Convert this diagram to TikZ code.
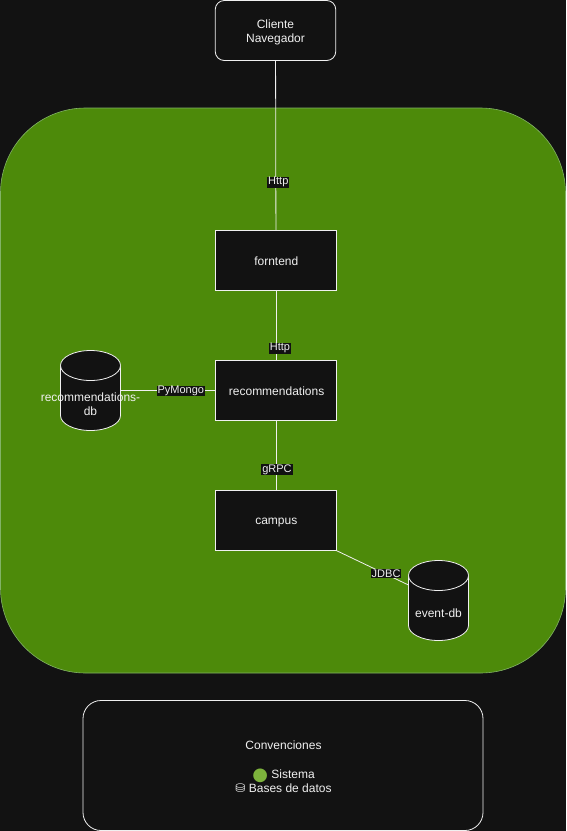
\documentclass[tikz,border=0pt]{standalone}
\usepackage{fontspec}
\setmainfont{Liberation Sans}
\newfontfamily\symfont{DejaVu Sans}
\usetikzlibrary{calc}
\definecolor{pagebg}{HTML}{121212}
\definecolor{groupgreen}{HTML}{4D8A0A}
\definecolor{groupedge}{HTML}{82B366}
\definecolor{dotgreen}{HTML}{7DB33C}
\definecolor{ink}{HTML}{F0F0F0}
\tikzset{
  x=1pt,y=-1pt,
  every node/.style={text=ink,font=\fontsize{12}{14.4}\selectfont,inner sep=0pt,outer sep=0pt},
  boxnode/.style={draw=ink,fill=pagebg,line width=0.8pt,minimum width=120.5pt,minimum height=60pt,align=center},
  roundbox/.style={boxnode,rounded corners=9pt},
  dbnode/.style={minimum width=60pt,minimum height=80pt,align=center},
  boxtext/.style={align=center},
  edgelabel/.style={fill=pagebg,text=ink,font=\fontsize{11}{13}\selectfont,inner xsep=1pt,inner ysep=0.5pt},
  link/.style={draw=ink,line width=0.8pt},
  cyl/.style={draw=ink,fill=pagebg,line width=0.8pt}
}
\newcommand{\drumshape}[1]{%
  \path[cyl] (#1.north west) ++(0,15)
    arc[start angle=180,end angle=0,x radius=30,y radius=-15]
    -- ++(0,50)
    arc[start angle=0,end angle=-180,x radius=30,y radius=-15] -- cycle;
  \path[cyl] (#1.north west) ++(0,15)
    arc[start angle=180,end angle=360,x radius=30,y radius=-15];
}
\begin{document}
\begin{tikzpicture}
\useasboundingbox[fill=pagebg] (0,0) rectangle (566,831);
\path[fill=groupgreen,draw=groupedge,line width=0.6pt,rounded corners=85pt] (0.5,108) rectangle (565.5,673);
\node[roundbox] (cliente) at (275.5,30.5) {};
\node[boxnode] (fe) at (276,260.5) {};
\node[boxnode] (rec) at (276,390.5) {};
\node[boxnode] (campus) at (276,520.5) {};
\node[dbnode] (rdb) at (90.5,390.5) {};
\node[dbnode] (edb) at (438.5,600.5) {};
\coordinate (edbside) at (408.5,585);
\draw[link] (cliente) -- node[edgelabel,pos=0.71,xshift=2.5pt,yshift=-1pt] (l1) {Http} (fe);
\draw[link] (fe) -- node[edgelabel,pos=0.81,xshift=4pt,yshift=-1pt] (l2) {Http} (rec);
\draw[link] (rdb.east) -- node[edgelabel,pos=0.633,yshift=-0.5pt] (l3) {PyMongo} (rec.west);
\draw[link] (rec) -- node[edgelabel,pos=0.7,xshift=1pt] (l4) {gRPC} (campus);
\draw[link] (campus.south east) -- node[edgelabel,pos=0.69,yshift=1pt] (l5) {JDBC} (edbside);
\drumshape{rdb}
\drumshape{edb}
\node[boxtext] (cliT) at (275.5,32.5) {Cliente\\Navegador};
\node[boxtext] (feT) at (276.3,261.5) {forntend};
\node[boxtext] (recT) at (276.6,391.5) {recommendations};
\node[boxtext] (camT) at (276.3,523) {campus};
\node[boxtext] (rdbt) at (90.5,404) {recommendations-\\db};
\node[boxtext] (edbt) at (438.5,613.5) {event-db};
\node[roundbox,minimum width=400pt,minimum height=130pt,rounded corners=18pt] (conv) at (283,765.5) {};
\node[align=center] (convt) at (283.5,767) {Convenciones\\[14.4pt]\smash{\raisebox{-2pt}{\symfont\fontsize{18}{14.4}\selectfont\textcolor{dotgreen}{●}}} Sistema\\{\symfont ⛁} Bases de datos};
\end{tikzpicture}
\end{document}
